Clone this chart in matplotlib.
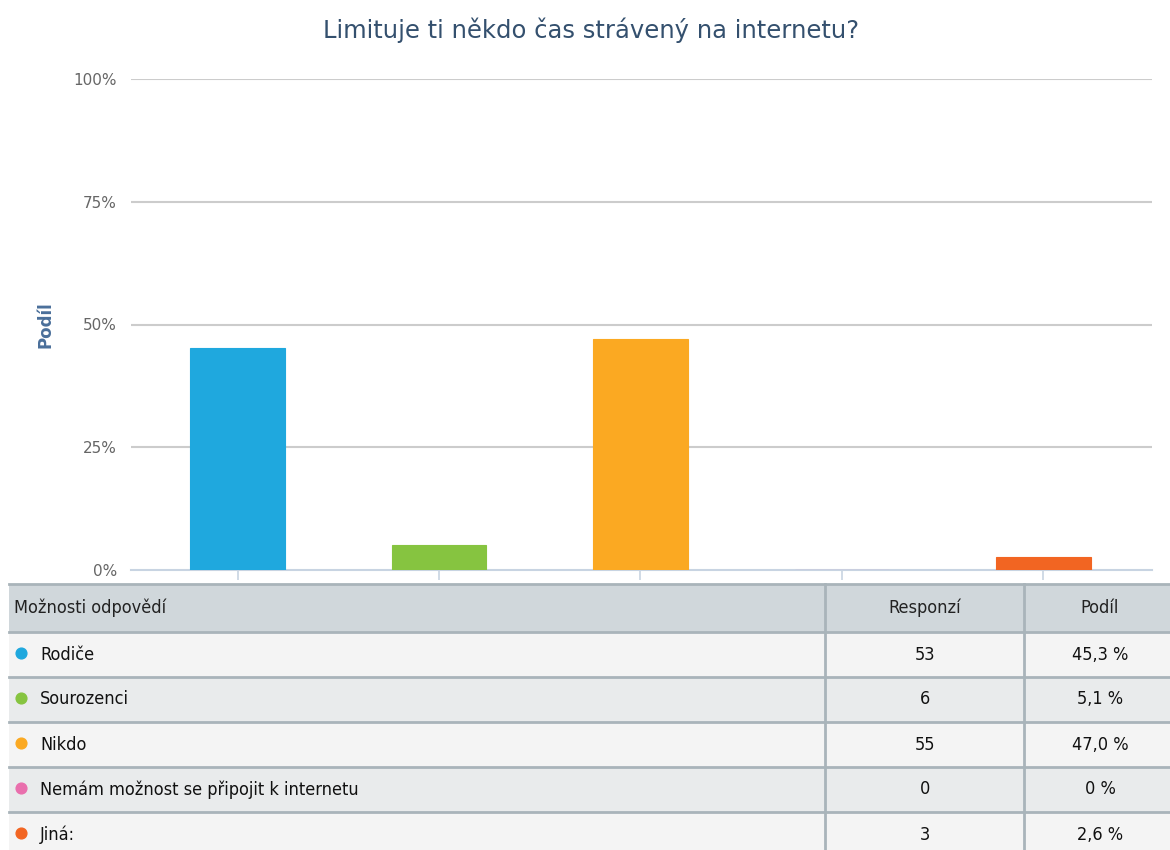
import matplotlib.pyplot as plt
from matplotlib.patches import Rectangle
from matplotlib import font_manager

# survey data
categories = ["Rodiče", "Sourozenci", "Nikdo", "Nemám možnost se připojit k internetu", "Jiná:"]
responses = [53, 6, 55, 0, 3]
shares = [45.3, 5.1, 47.0, 0.0, 2.6]
share_labels = ["45,3 %", "5,1 %", "47,0 %", "0 %", "2,6 %"]
colors = ["#1fa8de", "#86c440", "#fba922", "#e96fad", "#f26522"]

title = "Limituje ti někdo čas strávený na internetu?"
yticks = [0, 25, 50, 75, 100]
ytick_labels = ["0%", "25%", "50%", "75%", "100%"]

# condensed face for the table if there is one
cond = [f for f in font_manager.fontManager.ttflist if "Condensed" in f.fname and f.name == "DejaVu Sans"
        and "Bold" not in f.fname and "Oblique" not in f.fname]
if cond:
    table_font = font_manager.FontProperties(fname=cond[0].fname, size=13)
else:
    table_font = font_manager.FontProperties(family="DejaVu Sans", size=12)

fig = plt.figure(figsize=(11.7, 8.5), dpi=100)

# table layer in pixel coords
tab = fig.add_axes([0, 0, 1, 1])
tab.set_xlim(0, 1170)
tab.set_ylim(850, 0)
tab.axis("off")

# main chart
ax = fig.add_axes([131 / 1170, 1 - 570 / 850, (1152 - 131) / 1170, (570 - 79) / 850])
ax.set_zorder(2)
ax.patch.set_alpha(0)
x = list(range(len(categories)))
ax.bar(x, shares, width=0.47, color=colors, edgecolor=colors, linewidth=0.8, zorder=3)
ax.set_xlim(-0.53, 4.54)
ax.set_ylim(0, 100)
ax.set_yticks(yticks)
ax.set_yticklabels(ytick_labels, color="#666666", fontsize=11)
ax.set_xticks(x)
ax.set_xticklabels([])
ax.tick_params(axis="y", length=0, pad=10)
ax.tick_params(axis="x", length=7, color="#c8d4e2", width=1.2)
for yv in yticks[1:]:
    ax.axhline(yv, color="#cccccc", linewidth=1.5, zorder=1)
for s in ["top", "right", "left"]:
    ax.spines[s].set_visible(False)
ax.spines["bottom"].set_color("#c8d4e2")
ax.spines["bottom"].set_linewidth(1.5)
ax.set_ylabel("Podíl", color="#4a6f9a", fontsize=12, fontweight="bold")
ax.yaxis.set_label_coords(-0.075, 0.5)

fig.text(0.505, 1 - 30 / 850, title, ha="center", va="center", fontsize=17.5, color="#34506e")

# table
col_x = [9, 825, 1024, 1170]
row_edges = [584, 632, 677, 722, 767, 812, 857]
tab.add_patch(Rectangle((col_x[0], row_edges[0]), 1170 - col_x[0], row_edges[1] - row_edges[0],
                        facecolor="#d0d7db", edgecolor="none"))
for i in range(len(categories)):
    bg = "#f4f4f4" if i % 2 == 0 else "#e9ebec"
    tab.add_patch(Rectangle((col_x[0], row_edges[i + 1]), 1170 - col_x[0],
                            row_edges[i + 2] - row_edges[i + 1], facecolor=bg, edgecolor="none"))
for yv in row_edges[:-1]:
    tab.plot([col_x[0], 1170], [yv, yv], color="#a9b4ba", linewidth=2)
for xv in col_x[1:3]:
    tab.plot([xv, xv], [row_edges[0], 850], color="#a9b4ba", linewidth=2)

def mid(i):
    return (row_edges[i] + row_edges[i + 1]) / 2

tab.text(14, mid(0), "Možnosti odpovědí", ha="left", va="center", fontproperties=table_font, color="#222222")
tab.text(925, mid(0), "Responzí", ha="center", va="center", fontproperties=table_font, color="#222222")
tab.text(1100, mid(0), "Podíl", ha="center", va="center", fontproperties=table_font, color="#222222")
for i, (cat, n, lab, c) in enumerate(zip(categories, responses, share_labels, colors)):
    ym = mid(i + 1)
    tab.scatter([21], [ym - 2], s=60, color=c, zorder=3)
    tab.text(40, ym, cat, ha="left", va="center", fontproperties=table_font, color="#111111")
    tab.text(925, ym, str(n), ha="center", va="center", fontproperties=table_font, color="#111111")
    tab.text(1100, ym, lab, ha="center", va="center", fontproperties=table_font, color="#111111")

fig.savefig("out.png", dpi=100)
